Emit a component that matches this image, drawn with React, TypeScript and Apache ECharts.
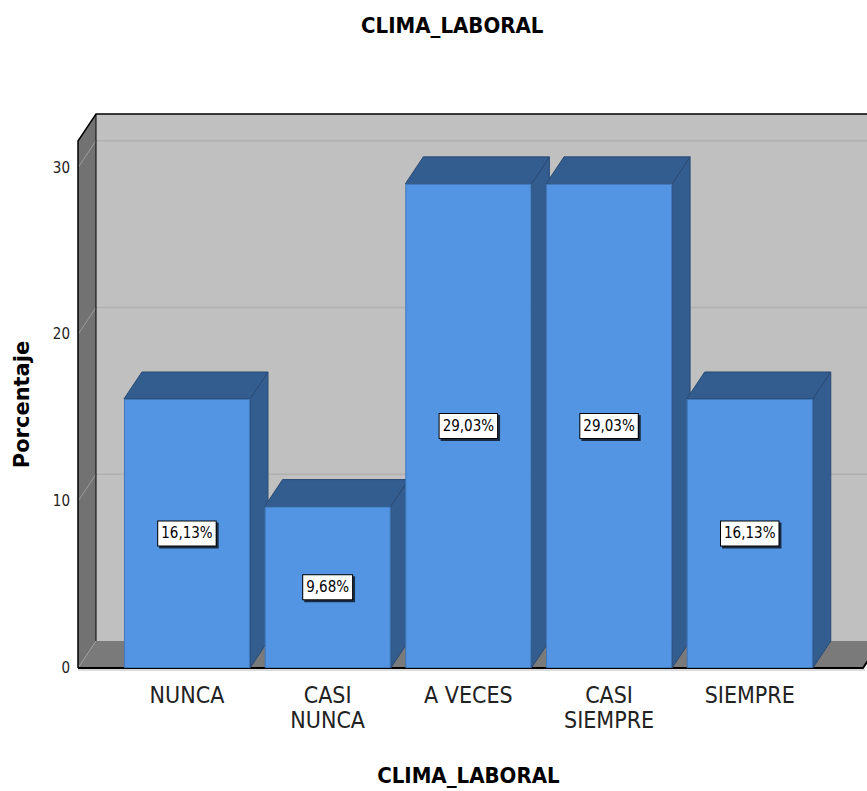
import React, { useEffect, useRef } from "react";
import * as echarts from "echarts";

const TITLE = "CLIMA_LABORAL";
const X_NAME = "CLIMA_LABORAL";
const Y_NAME = "Porcentaje";
const categories = ["NUNCA", "CASI\nNUNCA", "A VECES", "CASI\nSIEMPRE", "SIEMPRE"];
const values = [16.13, 9.68, 29.03, 29.03, 16.13];
const yGridTicks = [10, 20, 30];
const Y_MAX = 31.6;

const NARROW = "'Liberation Sans Narrow', 'Arial Narrow', 'DejaVu Sans Condensed', sans-serif";
const DX = 18;
const DY = 27;
const EXT_L = 38.6;
const EXT_R = 42.9;

const FRONT = "#5395e3";
const DARK = "#335c8f";

export default function App() {
  const ref = useRef<HTMLDivElement>(null);
  useEffect(() => {
    if (!ref.current) return;
    const chart = echarts.init(ref.current, undefined, { renderer: "svg" });

    const wallsItem = (params: any, api: any) => {
      const cs = params.coordSys;
      const L = cs.x - EXT_L;
      const R = cs.x + cs.width + EXT_R;
      const y0 = api.coord([0, 0])[1];
      const yTop = cs.y;
      const FAR = R + DX + 200;
      const children: any[] = [];
      children.push({
        type: "rect",
        shape: { x: L + DX, y: yTop - DY, width: FAR - L, height: y0 - yTop },
        style: { fill: "#c0c0c0" },
      });
      yGridTicks.forEach((t) => {
        const y = api.coord([0, t])[1];
        children.push({
          type: "line",
          shape: { x1: L + DX, y1: y - DY, x2: FAR, y2: y - DY },
          style: { stroke: "#b0b0b0", lineWidth: 1.5 },
        });
      });
      children.push({
        type: "polygon",
        shape: { points: [[L, yTop], [L + DX, yTop - DY], [L + DX, y0 - DY], [L, y0]] },
        style: { fill: "#727272" },
      });
      yGridTicks.forEach((t) => {
        const y = api.coord([0, t])[1];
        children.push({
          type: "line",
          shape: { x1: L, y1: y, x2: L + DX, y2: y - DY },
          style: { stroke: "#9c9c9c", lineWidth: 1 },
        });
      });
      children.push({
        type: "polygon",
        shape: { points: [[L, y0], [L + DX, y0 - DY], [R + DX, y0 - DY], [R, y0]] },
        style: { fill: "#7a7a7a" },
      });
      children.push({
        type: "line",
        shape: { x1: L, y1: y0, x2: L + DX, y2: y0 - DY },
        style: { stroke: "#9c9c9c", lineWidth: 1 },
      });
      children.push({
        type: "polyline",
        shape: { points: [[L, y0], [L, yTop], [L + DX, yTop - DY], [FAR, yTop - DY]] },
        style: { stroke: "#000", lineWidth: 1.5, fill: "none" },
      });
      children.push({
        type: "line",
        shape: { x1: L + DX, y1: yTop - DY, x2: L + DX, y2: y0 - DY },
        style: { stroke: "#000", lineWidth: 1 },
      });
      children.push({
        type: "line",
        shape: { x1: L, y1: y0 + 2, x2: R + 2, y2: y0 + 2 },
        style: { stroke: "#d0d0d0", lineWidth: 1.5 },
      });
      children.push({
        type: "polyline",
        shape: { points: [[L, y0], [R, y0], [R + DX, y0 - DY]] },
        style: { stroke: "#000", lineWidth: 2, fill: "none" },
      });
      return { type: "group", children };
    };

    const barsItem = (params: any, api: any) => {
      const idx = api.value(0);
      const v = api.value(1);
      const base = api.coord([idx, 0]);
      const top = api.coord([idx, v]);
      const w = api.size([1, 0])[0] * 0.896;
      const l = base[0] - w / 2;
      const r = base[0] + w / 2;
      const yt = top[1];
      const yb = base[1];
      return {
        type: "group",
        children: [
          {
            type: "polygon",
            shape: { points: [[r, yt], [r + DX, yt - DY], [r + DX, yb - DY], [r, yb]] },
            style: { fill: DARK, stroke: "#2a4b75", lineWidth: 1 },
          },
          {
            type: "polygon",
            shape: { points: [[l, yt], [l + DX, yt - DY], [r + DX, yt - DY], [r, yt]] },
            style: { fill: DARK, stroke: "#2a4b75", lineWidth: 1 },
          },
        ],
      };
    };

    chart.setOption({
      animation: false,
      title: {
        text: TITLE,
        left: 356,
        top: 9,
        textStyle: { fontFamily: NARROW, fontWeight: "bold", fontSize: 22, color: "#000" },
      },
      grid: { left: 116.6, width: 703.5, top: 141, bottom: 123, containLabel: false },
      xAxis: {
        type: "category",
        data: categories,
        name: X_NAME,
        nameLocation: "middle",
        nameGap: 96,
        nameTextStyle: { fontFamily: NARROW, fontWeight: "bold", fontSize: 22, color: "#000" },
        axisLine: { show: false },
        axisTick: { show: false },
        axisLabel: { fontFamily: NARROW, fontSize: 23, color: "#222", lineHeight: 25, margin: 14 },
        splitLine: { show: false },
      },
      yAxis: {
        type: "value",
        min: 0,
        max: Y_MAX,
        interval: 10,
        offset: EXT_L,
        name: Y_NAME,
        nameLocation: "middle",
        nameGap: 46,
        nameTextStyle: { fontFamily: "'DejaVu Sans', sans-serif", fontWeight: "bold", fontSize: 21, color: "#000" },
        axisLine: { show: false },
        axisTick: { show: false },
        axisLabel: { fontFamily: NARROW, fontSize: 15, color: "#222", margin: 8, showMaxLabel: false },
        splitLine: { show: false },
      },
      series: [
        {
          type: "custom",
          renderItem: wallsItem,
          data: [[0, 0]],
          silent: true,
          z: 1,
        },
        {
          type: "custom",
          renderItem: barsItem,
          data: values.map((v, i) => [i, v]),
          encode: { x: 0, y: 1 },
          z: 2,
        },
        {
          type: "bar",
          data: values,
          barWidth: "89.6%",
          z: 3,
          itemStyle: { color: FRONT, borderColor: "#3f77ba", borderWidth: 1 },
          label: {
            show: true,
            position: "inside",
            formatter: (p: any) => p.value.toFixed(2).replace(".", ",") + "%",
            fontFamily: NARROW,
            fontSize: 15,
            color: "#000",
            backgroundColor: "#fff",
            borderColor: "#000",
            borderWidth: 1,
            padding: [5, 3, 4, 3],
            shadowColor: "rgba(0,0,0,0.7)",
            shadowOffsetX: 2,
            shadowOffsetY: 2,
            shadowBlur: 0,
          },
        },
      ],
    });
    return () => chart.dispose();
  }, []);
  return (
    <div
      ref={ref}
      style={{ position: "fixed", left: 0, top: 0, width: 867, height: 791, background: "#fff" }}
    />
  );
}
